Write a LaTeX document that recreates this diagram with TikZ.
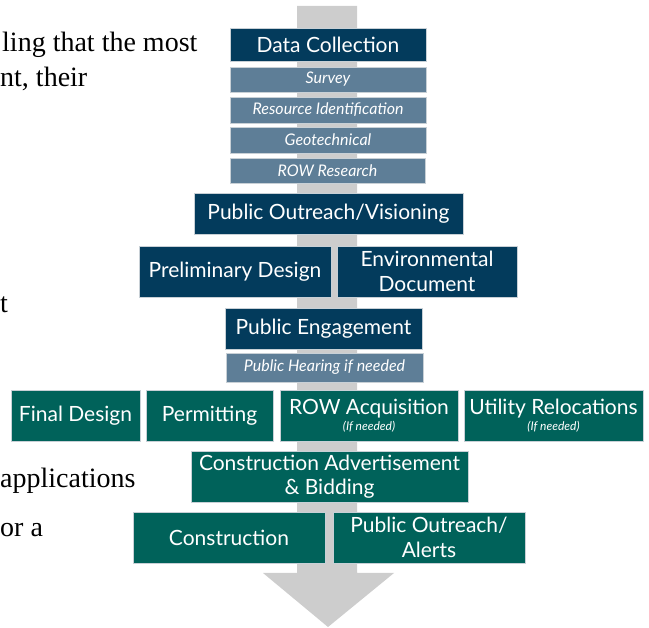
\documentclass[tikz,border=0pt]{standalone}
\usepackage{fontspec}
\setmainfont{Liberation Serif}
\newfontfamily\boxfont{Lato}
\definecolor{navyblue}{RGB}{3,59,92}
\definecolor{slateblue}{RGB}{94,126,151}
\definecolor{tealgreen}{RGB}{0,98,90}
\definecolor{boxedge}{RGB}{200,208,214}
\definecolor{flowgray}{RGB}{205,205,205}
\begin{document}
\begin{tikzpicture}[x=1pt,y=-1pt,
  stepbase/.style={draw=boxedge,line width=0.8pt,inner sep=0pt,text=white,align=center,font=\boxfont\fontsize{21}{24.5}\selectfont},
  navybox/.style={stepbase,fill=navyblue},
  slatebox/.style={stepbase,fill=slateblue,font=\boxfont\itshape\fontsize{16}{18}\selectfont},
  greenbox/.style={stepbase,fill=tealgreen},
  pagetext/.style={anchor=base west,inner sep=0pt,font=\fontsize{28}{34}\selectfont}]
\useasboundingbox (0,0) rectangle (649,628);
\begin{scope}
\clip (0,0) rectangle (649,628);
% cut-off page text on the left
\node[pagetext] (line1) at (2,52) {ling that the most};
\node[pagetext] (line2) at (0,87) {nt, their};
\node[pagetext] (line3) at (0,313) {t};
\node[pagetext] (line4) at (0,488) {applications};
\node[pagetext] (line5) at (0,537) {or a};
\end{scope}
% big gray arrow behind the steps
\fill[flowgray] (297,6) -- (357,6) -- (357,573) -- (394,573) -- (328,627) -- (263,573) -- (297,573) -- cycle;
% data collection
\node[navybox,minimum width=196,minimum height=33] (datacoll) at (328,44.5) {Data Collection};
\node[slatebox,minimum width=196,minimum height=25] (survey) at (328,79.5) {Survey};
\node[slatebox,minimum width=196,minimum height=26] (resid) at (328,110) {Resource Identification};
\node[slatebox,minimum width=196,minimum height=26] (geotech) at (328,140) {Geotechnical};
\node[slatebox,minimum width=195,minimum height=25] (rowres) at (327.5,170.5) {ROW Research};
% outreach and design
\node[navybox,minimum width=269,minimum height=41] (outreach) at (328.5,213.5) {Public Outreach/Visioning};
\node[navybox,minimum width=192,minimum height=51] (prelim) at (235,271.5) {Preliminary Design};
\node[navybox,minimum width=180,minimum height=51] (envdoc) at (427,271.5) {Environmental\\Document};
\node[navybox,minimum width=197,minimum height=41] (engage) at (323.5,328.5) {Public Engagement};
\node[slatebox,minimum width=197,minimum height=29] (hearing) at (324.5,367.5) {Public Hearing if needed};
% final design row
\node[greenbox,minimum width=129,minimum height=51] (finaldes) at (75.5,415.5) {Final Design};
\node[greenbox,minimum width=127,minimum height=51] (permit) at (209.5,415.5) {Permitting};
\node[greenbox,minimum width=178,minimum height=51] (rowacq) at (369,415.5) {ROW Acquisition\\[-9pt]{\itshape\fontsize{12}{14}\selectfont (If needed)}};
\node[greenbox,minimum width=179,minimum height=51] (utility) at (553.5,415.5) {Utility Relocations\\[-9pt]{\itshape\fontsize{12}{14}\selectfont (If needed)}};
% bidding and construction
\node[greenbox,minimum width=277,minimum height=51] (advert) at (329.5,476.5) {Construction Advertisement\\\& Bidding};
\node[greenbox,minimum width=192,minimum height=51] (constr) at (229,537.5) {Construction};
\node[greenbox,minimum width=192,minimum height=51] (alerts) at (429,537.5) {Public Outreach/\\Alerts};
\end{tikzpicture}
\end{document}
